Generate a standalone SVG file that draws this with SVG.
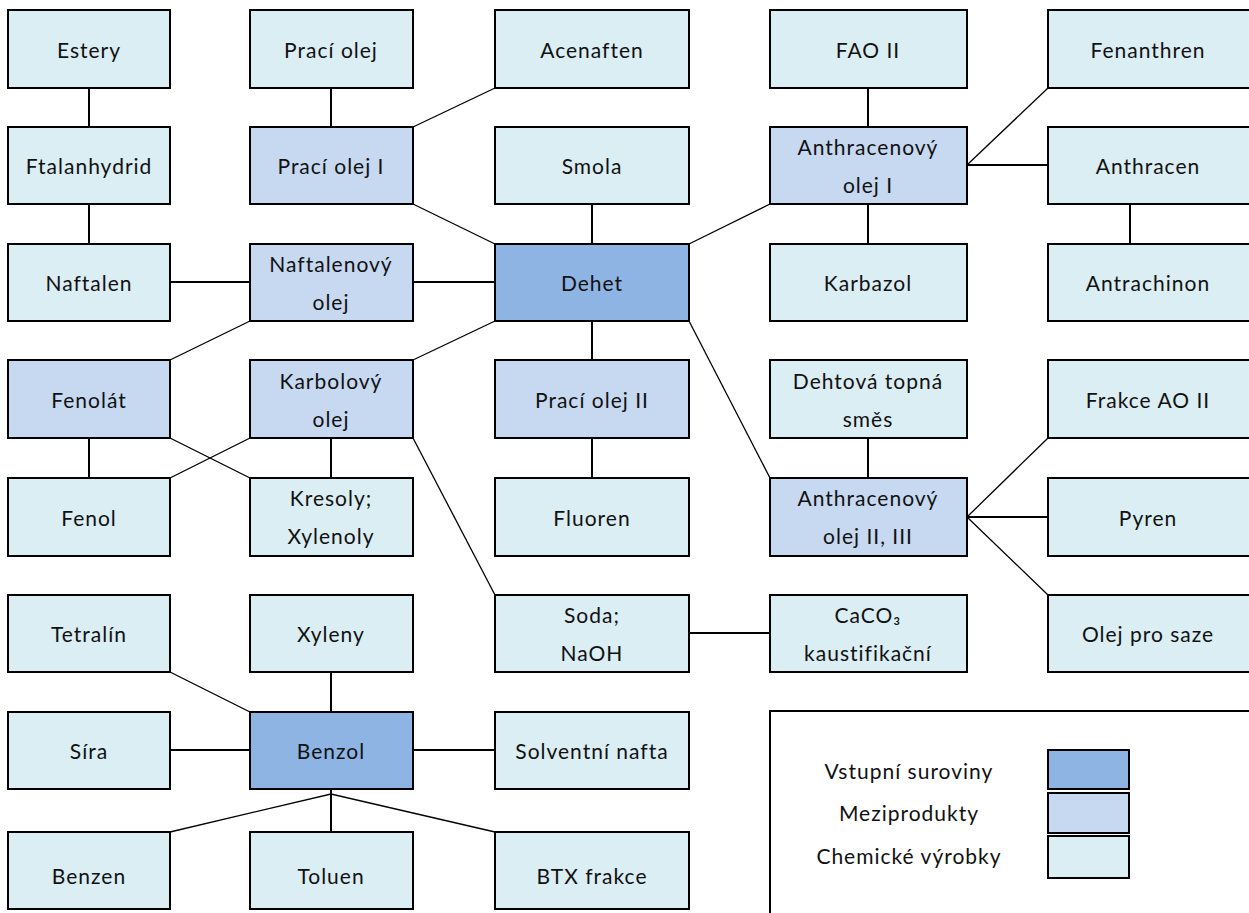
<svg xmlns="http://www.w3.org/2000/svg" width="1249" height="913" viewBox="0 0 1249 913">
  <style>
    .box rect { stroke: #000; stroke-width: 2; }
    .in rect { fill: #8EB4E3; }
    .mid rect { fill: #C6D9F1; }
    .out rect { fill: #DBEEF4; }
    text { font-family: Lato, "Liberation Sans", sans-serif; font-size: 21px; letter-spacing: 1px; fill: #111; text-anchor: middle; dominant-baseline: central; }
    .conn line, .conn polyline { stroke: #000; fill: none; }
    .conn .v { stroke-width: 2; }
    .conn .d { stroke-width: 1.3; }
  </style>

  <!-- connectors -->
  <g class="conn">
    <line class="v" x1="89" y1="88" x2="89" y2="127"/>
    <line class="v" x1="89" y1="204" x2="89" y2="244"/>
    <line class="v" x1="331" y1="88" x2="331" y2="127"/>
    <line class="d" x1="495" y1="88" x2="413" y2="127"/>
    <line class="d" x1="413" y1="204" x2="495" y2="244"/>
    <line class="v" x1="592" y1="204" x2="592" y2="244"/>
    <line class="v" x1="170" y1="282" x2="250" y2="282"/>
    <line class="v" x1="413" y1="282" x2="495" y2="282"/>
    <line class="d" x1="250" y1="321" x2="170" y2="360"/>
    <line class="d" x1="495" y1="321" x2="413" y2="360"/>
    <line class="v" x1="592" y1="321" x2="592" y2="360"/>
    <line class="v" x1="592" y1="438" x2="592" y2="478"/>
    <line class="d" x1="689" y1="244" x2="770" y2="204"/>
    <line class="d" x1="689" y1="321" x2="770" y2="478"/>
    <line class="v" x1="868" y1="88" x2="868" y2="127"/>
    <line class="v" x1="868" y1="204" x2="868" y2="244"/>
    <line class="d" x1="967" y1="165" x2="1048" y2="88"/>
    <line class="v" x1="967" y1="165" x2="1048" y2="165"/>
    <line class="v" x1="1130" y1="204" x2="1130" y2="244"/>
    <line class="v" x1="868" y1="438" x2="868" y2="478"/>
    <line class="d" x1="967" y1="517" x2="1048" y2="438"/>
    <line class="v" x1="967" y1="517" x2="1048" y2="517"/>
    <line class="d" x1="967" y1="517" x2="1048" y2="595"/>
    <line class="v" x1="89" y1="438" x2="89" y2="478"/>
    <line class="d" x1="250" y1="438" x2="170" y2="478"/>
    <line class="d" x1="170" y1="438" x2="250" y2="478"/>
    <line class="v" x1="331" y1="438" x2="331" y2="478"/>
    <line class="d" x1="413" y1="438" x2="495" y2="595"/>
    <line class="v" x1="689" y1="633" x2="770" y2="633"/>
    <line class="d" x1="170" y1="672" x2="250" y2="712"/>
    <line class="v" x1="331" y1="672" x2="331" y2="712"/>
    <line class="v" x1="170" y1="750" x2="250" y2="750"/>
    <line class="v" x1="413" y1="750" x2="495" y2="750"/>
    <line class="v" x1="331" y1="789" x2="331" y2="832"/>
    <polyline class="d" points="170,832 331,794 495,832"/>
  </g>

  <!-- column 1 -->
  <g id="estery" class="box out"><rect x="8" y="10" width="162" height="78"/><text x="89" y="49">Estery</text></g>
  <g id="ftalanhydrid" class="box out"><rect x="8" y="127" width="162" height="77"/><text x="89" y="165">Ftalanhydrid</text></g>
  <g id="naftalen" class="box out"><rect x="8" y="244" width="162" height="77"/><text x="89" y="282">Naftalen</text></g>
  <g id="fenolat" class="box mid"><rect x="8" y="360" width="162" height="78"/><text x="89" y="399">Fenolát</text></g>
  <g id="fenol" class="box out"><rect x="8" y="478" width="162" height="78"/><text x="89" y="517">Fenol</text></g>
  <g id="tetralin" class="box out"><rect x="8" y="595" width="162" height="77"/><text x="89" y="633">Tetralín</text></g>
  <g id="sira" class="box out"><rect x="8" y="712" width="162" height="77"/><text x="89" y="750">Síra</text></g>
  <g id="benzen" class="box out"><rect x="8" y="832" width="162" height="77"/><text x="89" y="875">Benzen</text></g>

  <!-- column 2 -->
  <g id="praci-olej" class="box out"><rect x="250" y="10" width="163" height="78"/><text x="331" y="49">Prací olej</text></g>
  <g id="praci-olej-1" class="box mid"><rect x="250" y="127" width="163" height="77"/><text x="331" y="165">Prací olej I</text></g>
  <g id="naftalenovy-olej" class="box mid"><rect x="250" y="244" width="163" height="77"/><text x="331" y="263">Naftalenový</text><text x="331" y="301">olej</text></g>
  <g id="karbolovy-olej" class="box mid"><rect x="250" y="360" width="163" height="78"/><text x="331" y="380">Karbolový</text><text x="331" y="418">olej</text></g>
  <g id="kresoly" class="box out"><rect x="250" y="478" width="163" height="78"/><text x="331" y="497">Kresoly;</text><text x="331" y="535">Xylenoly</text></g>
  <g id="xyleny" class="box out"><rect x="250" y="595" width="163" height="77"/><text x="331" y="633">Xyleny</text></g>
  <g id="benzol" class="box in"><rect x="250" y="712" width="163" height="77"/><text x="331" y="750">Benzol</text></g>
  <g id="toluen" class="box out"><rect x="250" y="832" width="163" height="77"/><text x="331" y="875">Toluen</text></g>

  <!-- column 3 -->
  <g id="acenaften" class="box out"><rect x="495" y="10" width="194" height="78"/><text x="592" y="49">Acenaften</text></g>
  <g id="smola" class="box out"><rect x="495" y="127" width="194" height="77"/><text x="592" y="165">Smola</text></g>
  <g id="dehet" class="box in"><rect x="495" y="244" width="194" height="77"/><text x="592" y="282">Dehet</text></g>
  <g id="praci-olej-2" class="box mid"><rect x="495" y="360" width="194" height="78"/><text x="592" y="399">Prací olej II</text></g>
  <g id="fluoren" class="box out"><rect x="495" y="478" width="194" height="78"/><text x="592" y="517">Fluoren</text></g>
  <g id="soda" class="box out"><rect x="495" y="595" width="194" height="77"/><text x="592" y="614">Soda;</text><text x="592" y="652">NaOH</text></g>
  <g id="solventni-nafta" class="box out"><rect x="495" y="712" width="194" height="77"/><text x="592" y="750">Solventní nafta</text></g>
  <g id="btx" class="box out"><rect x="495" y="832" width="194" height="77"/><text x="592" y="875">BTX frakce</text></g>

  <!-- column 4 -->
  <g id="fao-2" class="box out"><rect x="770" y="10" width="197" height="78"/><text x="868" y="49">FAO II</text></g>
  <g id="anthracenovy-olej-1" class="box mid"><rect x="770" y="127" width="197" height="77"/><text x="868" y="146">Anthracenový</text><text x="868" y="184">olej I</text></g>
  <g id="karbazol" class="box out"><rect x="770" y="244" width="197" height="77"/><text x="868" y="282">Karbazol</text></g>
  <g id="dehtova-smes" class="box out"><rect x="770" y="360" width="197" height="78"/><text x="868" y="380">Dehtová topná</text><text x="868" y="418">směs</text></g>
  <g id="anthracenovy-olej-23" class="box mid"><rect x="770" y="478" width="197" height="78"/><text x="868" y="497">Anthracenový</text><text x="868" y="535">olej II, III</text></g>
  <g id="caco3" class="box out"><rect x="770" y="595" width="197" height="77"/><text x="868" y="614">CaCO₃</text><text x="868" y="652">kaustifikační</text></g>

  <!-- column 5 -->
  <g id="fenanthren" class="box out"><rect x="1048" y="10" width="210" height="78"/><text x="1148" y="49">Fenanthren</text></g>
  <g id="anthracen" class="box out"><rect x="1048" y="127" width="210" height="77"/><text x="1148" y="165">Anthracen</text></g>
  <g id="antrachinon" class="box out"><rect x="1048" y="244" width="210" height="77"/><text x="1148" y="282">Antrachinon</text></g>
  <g id="frakce-ao2" class="box out"><rect x="1048" y="360" width="210" height="78"/><text x="1148" y="399">Frakce AO II</text></g>
  <g id="pyren" class="box out"><rect x="1048" y="478" width="210" height="78"/><text x="1148" y="517">Pyren</text></g>
  <g id="olej-pro-saze" class="box out"><rect x="1048" y="595" width="210" height="77"/><text x="1148" y="633">Olej pro saze</text></g>

  <!-- legend -->
  <g id="legend">
    <rect x="770" y="711" width="490" height="210" fill="#fff" stroke="#000" stroke-width="2"/>
    <text x="909" y="770">Vstupní suroviny</text>
    <text x="909" y="812">Meziprodukty</text>
    <text x="909" y="855">Chemické výrobky</text>
    <g class="box in"><rect x="1048" y="750" width="81" height="39"/></g>
    <g class="box mid"><rect x="1048" y="793" width="81" height="40"/></g>
    <g class="box out"><rect x="1048" y="836" width="81" height="42"/></g>
  </g>
</svg>
